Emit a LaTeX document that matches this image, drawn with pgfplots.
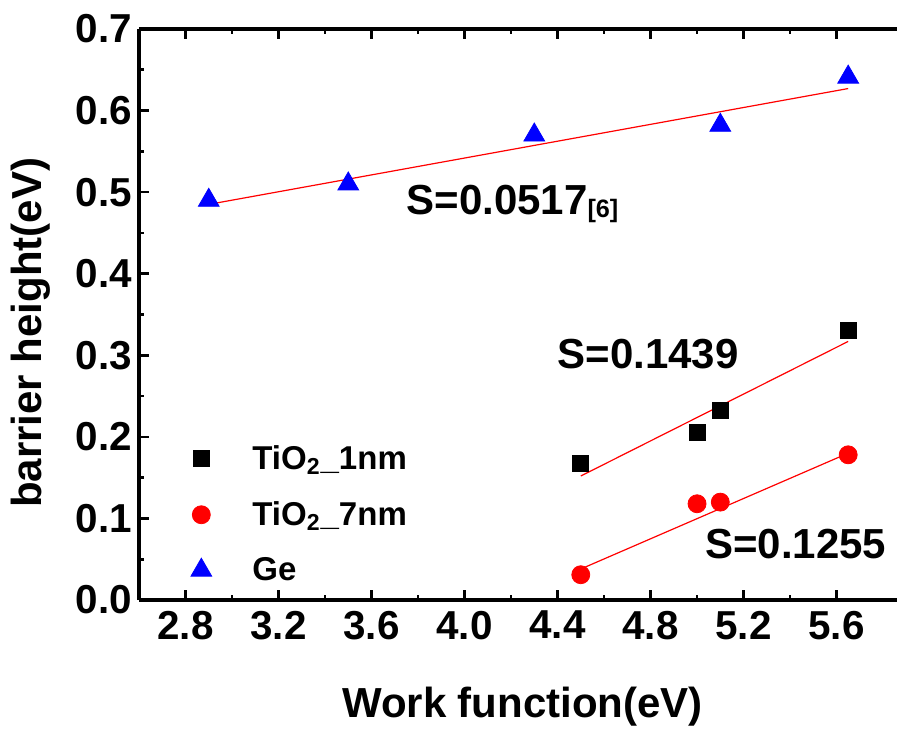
\documentclass[border=0pt]{standalone}
\usepackage{fontspec}
\setmainfont{Liberation Sans}
\usepackage{pgfplots}
\pgfplotsset{compat=1.18}
\pgfplotsset{myleg/.style={legend image code/.code={\path (0cm,0cm) (1.17cm,0cm); \draw[##1] plot coordinates {(0.35cm,0cm)};}}}
\begin{document}
\begin{tikzpicture}
\useasboundingbox (-69.5pt,-64.5pt) rectangle (379pt,300pt);
\begin{axis}[
  at={(0,0)}, anchor=south west,
  scale only axis, width=379pt, height=285.5pt,
  xmin=2.6, xmax=5.86, ymin=0, ymax=0.7,
  every non boxed y axis/.style={},
  axis x line=box, axis y line=left,
  y axis line style={-},
  axis line style={line width=1.6pt},
  xtick={2.8,3.2,3.6,4.0,4.4,4.8,5.2,5.6},
  ytick={0,0.1,0.2,0.3,0.4,0.5,0.6,0.7},
  minor x tick num=1, minor y tick num=1,
  tick align=inside,
  major tick length=5pt, minor tick length=2.5pt,
  tick style={line width=1.3pt, black},
  /pgf/number format/.cd, fixed, fixed zerofill, precision=1, assume math mode=true,
  /pgfplots/.cd,
  tick label style={font=\bfseries\fontsize{20.2}{24}\selectfont},
  xticklabel style={yshift=-2pt},
  xlabel={Work function(eV)},
  ylabel={barrier height(eV)},
  label style={font=\bfseries\fontsize{21}{24}\selectfont},
  xlabel style={at={(axis description cs:0.506,-0.205)}, anchor=base},
  ylabel style={at={(axis description cs:-0.128,0.468)}, anchor=base, rotate=0},
  legend style={at={(axis description cs:0.047,0.2855)}, anchor=north west, draw=none, fill=none,
    font=\bfseries\fontsize{16.5}{19}\selectfont, row sep=10.5pt},
  legend cell align=left,
]
\addplot[only marks, mark=square*, mark size=4pt, black, myleg]
  coordinates {(4.5,0.167) (5.0,0.205) (5.1,0.232) (5.65,0.330)};
\addlegendentry{TiO\textsubscript{2}\_1nm}
\addplot[only marks, mark=*, mark size=4.5pt, red, mark options={fill=red, draw=red}, myleg]
  coordinates {(4.5,0.031) (5.0,0.118) (5.1,0.120) (5.65,0.178)};
\addlegendentry{TiO\textsubscript{2}\_7nm}
\addplot[only marks, mark=triangle*, mark size=6pt, blue, mark options={fill=blue, draw=blue}, myleg]
  coordinates {(2.9,0.490) (3.5,0.510) (4.3,0.570) (5.1,0.582) (5.65,0.641)};
\addlegendentry{Ge}
\addplot[red, line width=0.6pt, forget plot] coordinates {(2.9,0.485) (5.65,0.627)};
\addplot[red, line width=0.6pt, forget plot] coordinates {(4.5,0.152) (5.65,0.317)};
\addplot[red, line width=0.6pt, forget plot] coordinates {(4.5,0.038) (5.65,0.180)};
\node[anchor=base west, inner sep=0pt, font=\bfseries\fontsize{21}{24}\selectfont] at (axis cs:3.749,0.473) {S=0.0517\raisebox{-1.5pt}{\fontsize{12.6}{14}\selectfont[6]}};
\node[anchor=base west, inner sep=0pt, font=\bfseries\fontsize{21}{24}\selectfont] at (axis cs:4.399,0.284) {S=0.1439};
\node[anchor=base west, inner sep=0pt, font=\bfseries\fontsize{21}{24}\selectfont] at (axis cs:5.034,0.0515) {S=0.1255};
\end{axis}
\end{tikzpicture}
\end{document}
